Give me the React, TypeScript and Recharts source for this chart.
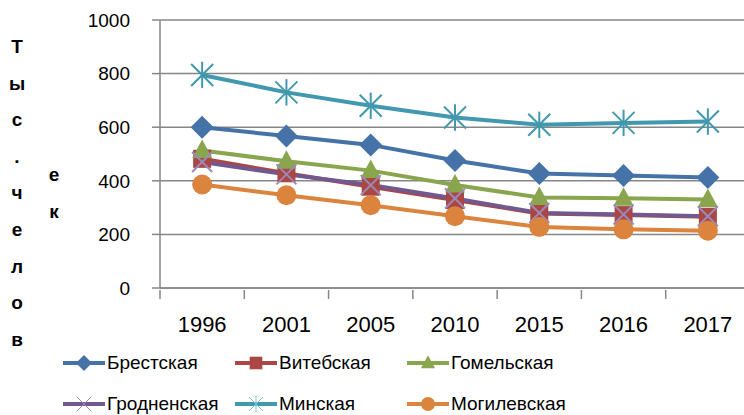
import React from 'react';
import { LineChart, Line, XAxis, YAxis, CartesianGrid } from 'recharts';

const years = ['1996', '2001', '2005', '2010', '2015', '2016', '2017'];

const brest = [600, 567, 534, 476, 427, 420, 412];
const vitebsk = [482, 428, 378, 328, 278, 272, 266];
const gomel = [513, 473, 438, 384, 338, 335, 330];
const grodno = [470, 424, 384, 334, 280, 274, 268];
const minsk = [795, 730, 680, 636, 609, 616, 621];
const mogilev = [386, 346, 309, 268, 228, 219, 214];

const yTicks = [0, 200, 400, 600, 800, 1000];

// axis title as it is broken up in the original
const titleCol1 = ['Т', 'ы', 'с', '.', 'ч', 'е', 'л', 'о', 'в'];
const titleCol2 = ['е', 'к'];

type Marker = 'diamond' | 'square' | 'triangle' | 'x' | 'star' | 'circle';

const series: { name: string; values: number[]; color: string; marker: Marker }[] = [
    { name: 'Брестская', values: brest, color: '#4572A7', marker: 'diamond' },
    { name: 'Витебская', values: vitebsk, color: '#AA4643', marker: 'square' },
    { name: 'Гомельская', values: gomel, color: '#89A54E', marker: 'triangle' },
    { name: 'Гродненская', values: grodno, color: '#71588F', marker: 'x' },
    { name: 'Минская', values: minsk, color: '#4198AF', marker: 'star' },
    { name: 'Могилевская', values: mogilev, color: '#DB843D', marker: 'circle' },
];

const data = years.map((year, i) => {
    const row: Record<string, string | number> = { year };
    series.forEach((s) => {
        row[s.name] = s.values[i];
    });
    return row;
});

const FONT = '"Liberation Sans", Arial, sans-serif';
const GRID = '#868686';

const MarkerShape = ({ cx, cy, type, color, size, thin }: { cx: number; cy: number; type: Marker; color: string; size: number; thin?: boolean }) => {
    const h = size / 2;
    switch (type) {
        case 'diamond':
            return <polygon points={`${cx},${cy - h * 1.15} ${cx + h * 1.15},${cy} ${cx},${cy + h * 1.15} ${cx - h * 1.15},${cy}`} fill={color} />;
        case 'square':
            return <rect x={cx - h * 0.9} y={cy - h * 0.9} width={h * 1.8} height={h * 1.8} fill={color} />;
        case 'triangle':
            return <polygon points={`${cx},${cy - h * 1.1} ${cx + h},${cy + h * 0.75} ${cx - h},${cy + h * 0.75}`} fill={color} />;
        case 'circle':
            return <circle cx={cx} cy={cy} r={h} fill={color} />;
        case 'x':
            return (
                <g stroke="#9C89B8" strokeWidth={thin ? 1 : 2}>
                    <line x1={cx - h} y1={cy - h} x2={cx + h} y2={cy + h} />
                    <line x1={cx - h} y1={cy + h} x2={cx + h} y2={cy - h} />
                </g>
            );
        case 'star':
            return (
                <g stroke={thin ? '#7FC3D4' : color} strokeWidth={thin ? 1 : 2}>
                    <line x1={cx - h} y1={cy - h} x2={cx + h} y2={cy + h} />
                    <line x1={cx - h} y1={cy + h} x2={cx + h} y2={cy - h} />
                    <line x1={cx} y1={cy - h * 1.2} x2={cx} y2={cy + h * 1.2} />
                </g>
            );
        default:
            return null;
    }
};

const PLOT_LEFT = 160;
const PLOT_RIGHT = 750;
const BAND = (PLOT_RIGHT - PLOT_LEFT) / years.length;

const XTick = (props: any) => {
    const { x, y, payload, index } = props;
    const left = x - BAND / 2;
    return (
        <g>
            <line x1={left} y1={y} x2={left} y2={y + 9} stroke={GRID} strokeWidth={1.5} />
            {index === years.length - 1 && (
                <line x1={x + BAND / 2} y1={y} x2={x + BAND / 2} y2={y + 9} stroke={GRID} strokeWidth={1.5} />
            )}
            <text x={x} y={y + 42} textAnchor="middle" fontSize={22} fontFamily={FONT} fill="#000">
                {payload.value}
            </text>
        </g>
    );
};

const App: React.FC = () => {
    return (
        <div style={{ position: 'absolute', left: 0, top: 0, width: 744, height: 415, overflow: 'hidden', background: '#fff' }}>
            <LineChart width={760} height={340} data={data} margin={{ top: 20, right: 10, left: 0, bottom: 0 }}>
                <CartesianGrid vertical={false} stroke={GRID} strokeWidth={1.5} />
                <XAxis
                    dataKey="year"
                    scale="band"
                    height={52}
                    axisLine={{ stroke: GRID, strokeWidth: 1.5 }}
                    tickLine={false}
                    tickSize={0}
                    tick={<XTick />}
                    interval={0}
                />
                <YAxis
                    width={160}
                    domain={[0, 1000]}
                    ticks={yTicks}
                    axisLine={{ stroke: GRID, strokeWidth: 1.5 }}
                    tickLine={{ stroke: GRID, strokeWidth: 1.5 }}
                    tickSize={8}
                    tickMargin={22}
                    tick={{ fontSize: 19, fontFamily: FONT, fill: '#000' }}
                />
                {series.map((s) => (
                    <Line
                        key={s.name}
                        dataKey={s.name}
                        stroke={s.color}
                        strokeWidth={4}
                        isAnimationActive={false}
                        dot={(p: any) => (
                            <MarkerShape key={`${s.name}-${p.index}`} cx={p.cx} cy={p.cy} type={s.marker} color={s.color} size={s.marker === 'star' ? 22 : 20} />
                        )}
                        activeDot={false}
                    />
                ))}
            </LineChart>

            {titleCol1.map((ch, i) => (
                <div
                    key={`t1-${i}`}
                    style={{ position: 'absolute', left: 6, top: 36 + i * 36.6, width: 22, textAlign: 'center', fontFamily: FONT, fontWeight: 'bold', fontSize: 19, lineHeight: '22px' }}
                >
                    {ch}
                </div>
            ))}
            {titleCol2.map((ch, i) => (
                <div
                    key={`t2-${i}`}
                    style={{ position: 'absolute', left: 43, top: 164 + i * 37, width: 22, textAlign: 'center', fontFamily: FONT, fontWeight: 'bold', fontSize: 19, lineHeight: '22px' }}
                >
                    {ch}
                </div>
            ))}

            {series.map((s, i) => {
                const col = i % 3;
                const row = Math.floor(i / 3);
                const left = 63 + col * 172;
                const top = 349 + row * 41;
                return (
                    <div key={s.name} style={{ position: 'absolute', left, top, height: 28, display: 'flex', alignItems: 'center' }}>
                        <svg width={42} height={28}>
                            <line x1={0} y1={14} x2={42} y2={14} stroke={s.color} strokeWidth={4} />
                            <MarkerShape cx={21} cy={14} type={s.marker} color={s.color} size={14} thin />
                        </svg>
                        <span style={{ fontFamily: FONT, fontSize: 19, marginLeft: 2, color: '#000', whiteSpace: 'nowrap' }}>{s.name}</span>
                    </div>
                );
            })}
        </div>
    );
};

export default App;
